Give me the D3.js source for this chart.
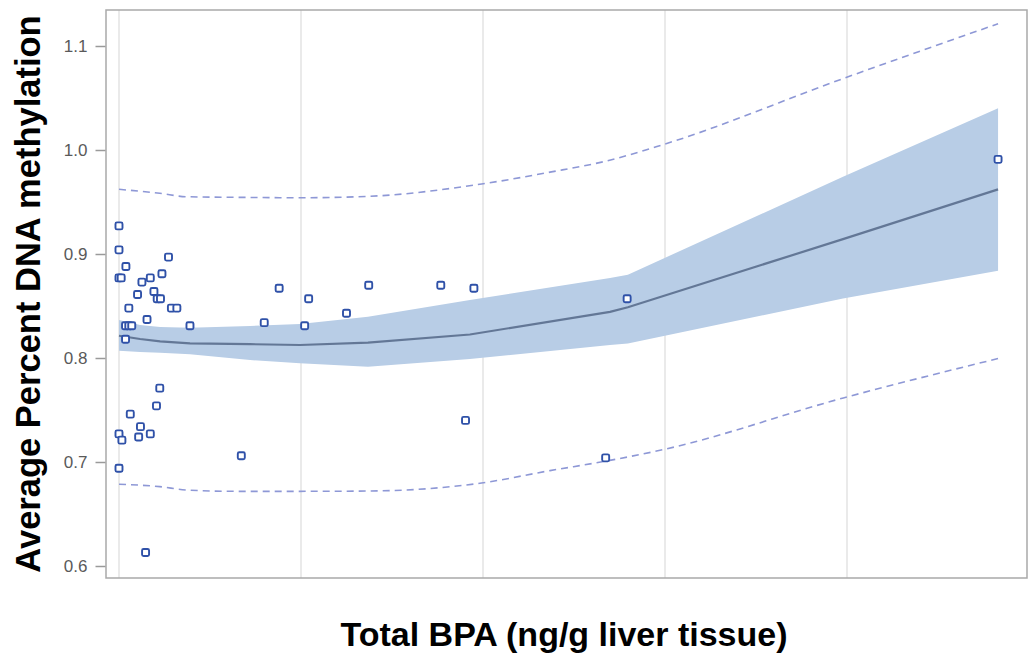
<!DOCTYPE html>
<html>
<head>
<meta charset="utf-8">
<script src="https://cdn.jsdelivr.net/npm/d3@7"></script>
<style>
  html, body { margin: 0; padding: 0; background: #ffffff; }
  svg { display: block; font-family: "Liberation Sans", Arial, Helvetica, sans-serif; }
</style>
</head>
<body>
<svg id="chart" width="1029" height="655"></svg>
<script>
// Observed samples: total BPA (ng/g liver tissue) vs. average % DNA methylation
const bpa = [0, 0, 1.9, 0, 0.6, 6.3, 8.6, 11.8, 13.6, 5.1, 9.6, 10.5, 11.4, 2.7, 14.4, 15.9,
  7.7, 1.8, 2.7, 3.5, 1.8, 19.5, 39.9, 44.0, 51.0, 52.1, 62.5, 68.6, 88.4, 97.5, 95.2,
  139.6, 133.7, 241.5, 11.2, 10.3, 3.1, 5.9, 0, 0.8, 5.4, 8.6, 0, 33.6, 7.3];
const methylation = [0.927, 0.904, 0.888, 0.877, 0.877, 0.873, 0.877, 0.881, 0.897, 0.861,
  0.864, 0.857, 0.857, 0.848, 0.848, 0.848, 0.837, 0.831, 0.831, 0.831, 0.818, 0.831,
  0.834, 0.867, 0.831, 0.857, 0.843, 0.870, 0.870, 0.867, 0.740, 0.857, 0.704, 0.991,
  0.771, 0.754, 0.746, 0.734, 0.727, 0.721, 0.724, 0.727, 0.694, 0.706, 0.613];

// Fitted curve with confidence band
const fitX    = [0, 5.8, 11.3, 19.5, 36.0, 49.7, 68.4, 96.4, 134.9, 139.8, 198.9, 241.5];
const fitY    = [0.8214, 0.8183, 0.8159, 0.8141, 0.8133, 0.8125, 0.8147, 0.8226, 0.8444, 0.8488, 0.9143, 0.9621];
const ciLow   = [0.8070, 0.8058, 0.8051, 0.8036, 0.7981, 0.7949, 0.7916, 0.7990, 0.8125, 0.8139, 0.8573, 0.8838];
const ciHigh  = [0.8365, 0.8317, 0.8298, 0.8291, 0.8308, 0.8327, 0.8397, 0.8558, 0.8769, 0.8801, 0.9742, 1.0401];

// Prediction limits (dashed)
const predX    = [0, 11.2, 18.5, 32.2, 49.6, 68.8, 99.6, 118.4, 134, 149.5, 199, 241.5];
const predHigh = [0.9622, 0.9584, 0.9551, 0.9545, 0.9541, 0.9555, 0.9673, 0.9787, 0.9895, 1.0052, 1.0688, 1.1214];
const predLow  = [0.6786, 0.6763, 0.6731, 0.6718, 0.6718, 0.6721, 0.6798, 0.6917, 0.7010, 0.7119, 0.7616, 0.7995];

// Axis ticks
const xGridValues = [0, 50, 100, 150, 200];
const yTickValues = [0.6, 0.7, 0.8, 0.9, 1.0, 1.1];

const svg = d3.select("#chart");
const frame = { left: 106, top: 10, right: 1027, bottom: 578 };

const x = d3.scaleLinear().domain([-3.57, 249.45]).range([frame.left, frame.right]);
const y = d3.scaleLinear().domain([0.58846, 1.13462]).range([frame.bottom, frame.top]);

// Vertical grid lines
svg.append("g").selectAll("line").data(xGridValues).join("line")
  .attr("x1", d => x(d)).attr("x2", d => x(d))
  .attr("y1", frame.top).attr("y2", frame.bottom)
  .attr("stroke", "#e3e3e3").attr("stroke-width", 1.5);

// Confidence band
const band = fitX.map((d, i) => ({ x: d, lo: ciLow[i], hi: ciHigh[i] }));
svg.append("path").datum(band)
  .attr("d", d3.area().x(d => x(d.x)).y0(d => y(d.lo)).y1(d => y(d.hi)))
  .attr("fill", "#b8cde6");

// Fitted line
svg.append("path").datum(fitX.map((d, i) => [d, fitY[i]]))
  .attr("d", d3.line().x(d => x(d[0])).y(d => y(d[1])))
  .attr("fill", "none").attr("stroke", "#637796").attr("stroke-width", 2.2);

// Prediction limits
[predHigh, predLow].forEach(arr => {
  svg.append("path").datum(predX.map((d, i) => [d, arr[i]]))
    .attr("d", d3.line().curve(d3.curveMonotoneX).x(d => x(d[0])).y(d => y(d[1])))
    .attr("fill", "none").attr("stroke", "#8e98d6").attr("stroke-width", 1.6)
    .attr("stroke-dasharray", "7,5");
});

// Observations
const pts = bpa.map((d, i) => [d, methylation[i]]);
svg.append("g").selectAll("rect").data(pts).join("rect")
  .attr("x", d => x(d[0]) - 3.5).attr("y", d => y(d[1]) - 3.5)
  .attr("width", 7).attr("height", 7).attr("rx", 1.5)
  .attr("fill", "#ffffff").attr("stroke", "#2f51a8").attr("stroke-width", 1.9);

// Frame
svg.append("rect")
  .attr("x", frame.left).attr("y", frame.top)
  .attr("width", frame.right - frame.left).attr("height", frame.bottom - frame.top)
  .attr("fill", "none").attr("stroke", "#a9a9a9").attr("stroke-width", 1.5);

// Y axis
const yAxis = svg.append("g").attr("transform", `translate(${frame.left - 0.5},0)`)
  .call(d3.axisLeft(y).tickValues(yTickValues).tickFormat(d3.format(".1f")).tickSize(10).tickPadding(8));
yAxis.select(".domain").remove();
yAxis.selectAll(".tick line").attr("stroke", "#9a9a9a").attr("stroke-width", 1.5);
yAxis.selectAll(".tick text").attr("fill", "#5a5a5a").style("font-size", "17px")
  .style("font-family", "'Liberation Sans', Arial, sans-serif");

// Axis titles
svg.append("text")
  .attr("x", 564).attr("y", 646)
  .attr("text-anchor", "middle")
  .style("font-size", "34px").style("font-weight", "bold").attr("fill", "#000")
  .text("Total BPA (ng/g liver tissue)");

svg.append("text")
  .attr("transform", "translate(40,294) rotate(-90)")
  .attr("text-anchor", "middle")
  .style("font-size", "34.5px").style("font-weight", "bold").attr("fill", "#000")
  .text("Average Percent DNA methylation");
</script>
</body>
</html>
